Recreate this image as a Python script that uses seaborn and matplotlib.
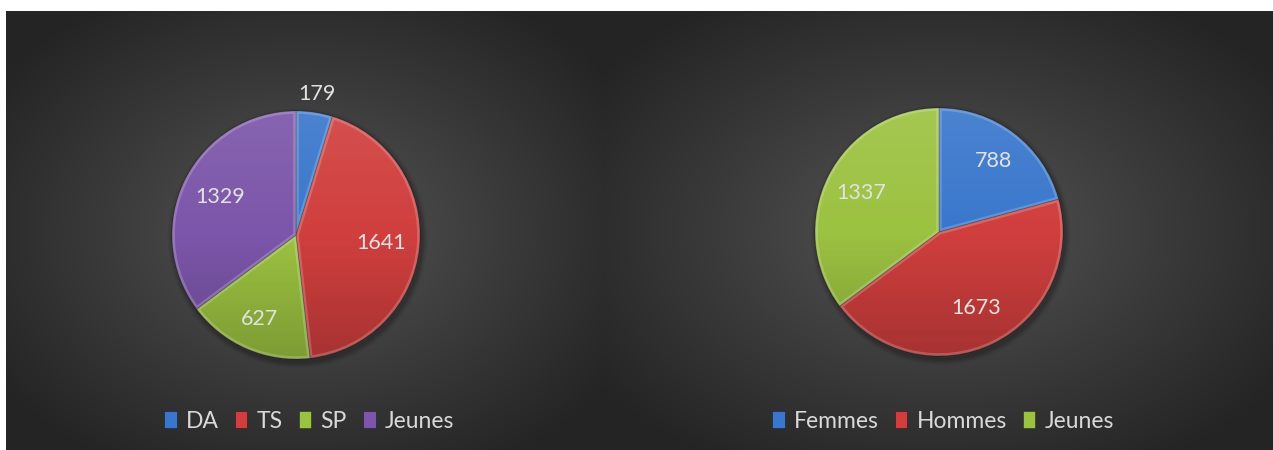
import numpy as np
import matplotlib
matplotlib.use("Agg")
import matplotlib.pyplot as plt
import seaborn as sns
from matplotlib.patches import Circle, PathPatch

# ---- data ----
left_labels = ["DA", "TS", "SP", "Jeunes"]
left_values = [179, 1641, 627, 1329]
right_labels = ["Femmes", "Hommes", "Jeunes"]
right_values = [788, 1673, 1337]

# colour per category
left_colors = ["#3a77cc", "#d03f3e", "#9cc241", "#7c56aa"]
right_colors = ["#3a77cc", "#d03f3e", "#9cc241"]

# radial position of each value label (fraction of radius)
left_label_dist = [1.15, 0.69, 0.74, 0.68]
right_label_dist = [0.72, 0.68, 0.70]

sns.set_theme(style="dark")
plt.rcParams["font.family"] = ["Lato", "DejaVu Sans"]

W, H, DPI = 1273, 450, 100
fig = plt.figure(figsize=(W / DPI, H / DPI), dpi=DPI)
fig.patch.set_facecolor("white")

# ---- dark radial-gradient chart areas ----
bg = fig.add_axes([0, 0, 1, 1])
bg.set_axis_off()
img = np.ones((H, W, 3))
yy, xx = np.mgrid[0:H, 0:W]
c_mid, c_edge = 88 / 255, 36 / 255
for x0, x1, y0, y1 in [(6, 603, 11, H), (603, W, 11, H)]:
    cx, cy = (x0 + x1) / 2, (y0 + y1) / 2
    nx = (xx - cx) / ((x1 - x0) / 2)
    ny = (yy - cy) / ((y1 - y0) / 2)
    d = np.clip(np.sqrt(nx ** 2 + ny ** 2) / 1.25, 0, 1)
    val = c_mid + (c_edge - c_mid) * d ** 0.9
    mask = (xx >= x0) & (xx < x1) & (yy >= y0) & (yy < y1)
    for k in range(3):
        img[..., k] = np.where(mask, val, img[..., k])
bg.imshow(img, aspect="auto", interpolation="bilinear", extent=[0, W, H, 0])
bg.set_xlim(0, W)
bg.set_ylim(H, 0)

# vertical light/shade overlay for the bevelled look
n = 256
t = np.linspace(0, 1, n)[:, None] * np.ones((1, 4))
shade = np.zeros((n, 4, 4))
top = t[:, 0] < 0.5
shade[top, :, :3] = 1.0
shade[top, :, 3] = (0.09 * (1 - 2 * t[top, 0]))[:, None]
shade[~top, :, 3] = (0.20 * (2 * t[~top, 0] - 1))[:, None]

PAD = 1.35


def draw_pie(cx, cy, r, values, colors, dists):
    ext = r * PAD
    ax = fig.add_axes([(cx - ext) / W, 1 - (cy + ext) / H, 2 * ext / W, 2 * ext / H])
    ax.set_axis_off()
    # soft drop shadow
    for i, a in enumerate([0.10, 0.08, 0.06, 0.04]):
        ax.add_patch(Circle((0.015, -0.025), 1.0 + 0.012 * (i + 1),
                            facecolor="black", edgecolor="none", alpha=a, zorder=0))
    wedges, _ = ax.pie(values, colors=colors, startangle=90, counterclock=False,
                       radius=1.0,
                       wedgeprops=dict(edgecolor=(0, 0, 0, 0.35), linewidth=0.7))
    for w in wedges:
        w.set_zorder(1)
        im = ax.imshow(shade, extent=[-1, 1, -1, 1], aspect="auto", zorder=2,
                       interpolation="bilinear")
        im.set_clip_path(w)
        rim = PathPatch(w.get_path(), transform=w.get_transform(), facecolor="none",
                        edgecolor=(1, 1, 1, 0.20), linewidth=4, zorder=3)
        ax.add_patch(rim)
        rim.set_clip_path(w)
    for w, v, dist in zip(wedges, values, dists):
        ang = np.deg2rad((w.theta1 + w.theta2) / 2)
        ax.text(dist * np.cos(ang), dist * np.sin(ang), f"{v}", ha="center",
                va="center", fontsize=15.5, color="#e2e2e2", zorder=5)
    ax.set_xlim(-PAD, PAD)
    ax.set_ylim(-PAD, PAD)
    return wedges


def draw_legend(handles, labels, x_center, ncol):
    fig.legend(handles, labels, loc="center", bbox_to_anchor=(x_center / W, 29 / H),
               ncol=ncol, frameon=False, fontsize=16.5, labelcolor="#d9d9d9",
               handlelength=0.55, handleheight=0.7, handletextpad=0.4,
               columnspacing=0.7)


lw = draw_pie(296, 235, 124, left_values, left_colors, left_label_dist)
draw_legend(lw, left_labels, 309, 4)

rw = draw_pie(939, 232, 124, right_values, right_colors, right_label_dist)
draw_legend(rw, right_labels, 943, 3)

fig.savefig("out.png", dpi=DPI, facecolor=fig.get_facecolor())
